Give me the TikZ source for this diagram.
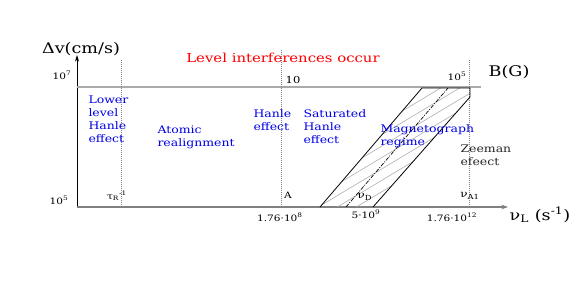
\documentclass[tikz,border=0pt]{standalone}
\usepackage{fontspec}
\setmainfont{DejaVu Serif}[FakeStretch=1.2]
\usetikzlibrary{arrows.meta}

\definecolor{lblblue}{RGB}{0,0,230}
\definecolor{lnkgray}{RGB}{170,170,170}
\tikzset{every picture/.style={line width=0.75pt}}
\tikzset{
  regime/.style={anchor=north west,inner sep=0pt,align=left,text=lblblue,font=\fontsize{7.8}{9.75}\selectfont},
  tick/.style={inner sep=0.75pt,font=\fontsize{6.6}{8}\selectfont},
  axlabel/.style={inner sep=0.75pt,font=\fontsize{11}{12}\selectfont},
  bound/.style={densely dotted,line width=0.5pt,color=gray},
  hatch/.style={line width=0.4pt,color=lnkgray}
}

\begin{document}
\begin{tikzpicture}[x=0.75pt,y=0.75pt,yscale=-1,xscale=1]
\path[use as bounding box] (0,0) rectangle (581,291);

%Axes
\draw [line width=0.6pt,-{Stealth[length=5pt,width=3pt]}] (77,207) -- (77,55) ;
\draw [line width=1.2pt,color=gray,-{Stealth[length=5pt,width=3.5pt]}] (77,207) -- (508,207) ;
%Upper limit
\draw [line width=1.5pt,color=lnkgray] (77,87) -- (481,87) ;

%Dotted bounds
\draw [bound] (121,60) -- (121,207) ;
\draw [bound] (281,50) -- (281,207) ;
\draw [bound] (469,60) -- (469,207) ;

%Magnetograph band
\begin{scope}
\clip (320,207) -- (422,88) -- (470,88) -- (470,97) -- (373,207) -- cycle;
\foreach \x in {210,229,...,370}
  \draw [hatch] (\x,215) -- (\x+300,35) ;
\end{scope}
\draw [line width=0.6pt] (320,207) -- (422,88) -- (470,88) -- (470,97) -- (373,207) ;
\draw [densely dash dot,line width=0.5pt] (346,207) -- (448,88) ;

%Axis labels
\node [axlabel] (dv) at (81,49) {Δv(cm/s)};
\node [axlabel] (bg) at (509,72) {B(G)};
\node [axlabel] (nul) at (540,215) {ν\textsubscript{L} (s\textsuperscript{-1})};
\node [tick] (ymax) at (62,75) {10\textsuperscript{7}};
\node [tick] (ymin) at (59,200) {10\textsuperscript{5}};
\node [tick,font=\fontsize{7.2}{8}\selectfont] (bmid) at (293,80) {10};
\node [tick] (bmax) at (457,76) {10\textsuperscript{5}};
\node [tick] (xa) at (280,217) {1.76·10\textsuperscript{8}};
\node [tick] (xd) at (366,214) {5·10\textsuperscript{9}};
\node [tick] (xz) at (452,217) {1.76·10\textsuperscript{12}};

%Marks on the bounds
\node [tick] (tau) at (117,196) {τ\textsubscript{R}\textsuperscript{-1}};
\node [tick] (hA) at (288,195) {A};
\node [tick,font=\fontsize{7.5}{8}\selectfont] (nuD) at (365,197) {ν\textsubscript{D}};
\node [tick,font=\fontsize{7.5}{8}\selectfont] (nuA) at (470,196) {ν\textsubscript{A1}};

%Title
\node [text=red,font=\fontsize{9.3}{11}\selectfont] (lvl) at (283,58) {Level interferences occur};

%Regimes
\node [regime] (lower) at (88,95) {Lower\\level\\Hanle\\effect};
\node [regime] (atom) at (157,125) {Atomic\\realignment};
\node [regime] (hanle) at (253,109) {Hanle\\effect};
\node [regime] (sat) at (303,109) {Saturated\\Hanle\\effect};
\node [regime] (mag) at (380,124) {Magnetograph\\regime};
\node [regime,text=black!85] (zee) at (460,144) {Zeeman\\efeect};

\end{tikzpicture}
\end{document}
